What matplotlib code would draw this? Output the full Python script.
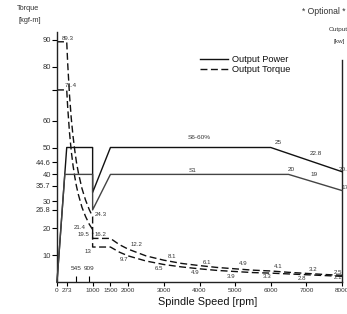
import matplotlib
matplotlib.use("Agg")
import matplotlib.pyplot as plt

plt.rcParams['font.family'] = ['Liberation Sans', 'DejaVu Sans']

# ---- data ----
power_s6_rpm = [0, 273, 1000, 1000, 1500, 6000, 8000]
power_s6_kw = [0, 25, 25, 16.65, 25, 25, 20.5]
power_s1_rpm = [0, 218, 1000, 1000, 1500, 6500, 8000]
power_s1_kw = [0, 20, 20, 13.4, 20, 20, 17]

torque_rpm = [0, 273, 300, 350, 400, 450, 500, 545, 600, 700, 800, 909, 1000, 1000,
              1500, 1750, 2000, 2500, 3000, 3500, 4000, 4500, 5000, 5500, 6000,
              6500, 7000, 7500, 8000]
torque_s6 = [89.3, 89.3, 81.3, 69.7, 60.9, 54.2, 48.8, 44.6, 40.6, 34.8, 30.5, 26.8, 24.3, 16.2,
             16.2, 13.9, 12.2, 9.7, 8.1, 6.9, 6.1, 5.4, 4.9, 4.4, 4.1,
             3.6, 3.2, 2.8, 2.5]
torque_s1 = [71.4, 71.4, 65.0, 55.7, 48.7, 43.3, 39.0, 35.7, 32.5, 27.8, 24.4, 21.4, 19.5, 13.0,
             13.0, 11.1, 9.7, 7.8, 6.5, 5.6, 4.9, 4.3, 3.9, 3.5, 3.3,
             3.0, 2.7, 2.4, 2.1]

x_ticks = [0, 273, 1000, 1500, 2000, 3000, 4000, 5000, 6000, 7000, 8000]
x_minor_ticks = [545, 909]
y_ticks = [10, 20, 26.8, 30, 35.7, 40, 44.6, 50, 60, 71.4, 80, 90]
y_tick_labels = ['10', '20', '26.8', '30', '35.7', '40', '44.6', '50', '60', '', '80', '90']

# torque labels: (rpm, value, text)
torque_labels = [
    (310, 90.5, '89.3'), (380, 73.0, '71.4'), (1230, 25.2, '24.3'),
    (650, 20.4, '21.4'), (740, 17.8, '19.5'), (1220, 17.8, '16.2'),
    (880, 11.5, '13'), (2240, 13.8, '12.2'), (1880, 8.5, '9.7'),
    (3230, 9.5, '8.1'), (2860, 5.2, '6.5'), (4220, 7.4, '6.1'),
    (3880, 3.7, '4.9'), (5220, 6.7, '4.9'), (4880, 2.2, '3.9'),
    (6200, 5.6, '4.1'), (5900, 1.9, '3.3'), (7180, 4.8, '3.2'),
    (6870, 1.2, '2.8'), (7880, 3.7, '2.5'), (7880, 1.5, '2.1'),
]
# power labels (rpm, kW, text)
power_labels = [
    (4000, 26.8, 'S6-60%'), (3820, 20.8, 'S1'), (6200, 26.0, '25'),
    (7270, 23.9, '22.8'), (6570, 21.0, '20'), (7210, 20.0, '19'),
    (8080, 20.9, '20.5'), (8080, 17.6, '17'),
]

# ---- figure ----
fig = plt.figure(figsize=(3.47, 3.14), dpi=100)
ax = fig.add_axes([57 / 347, 32 / 314, 285 / 347, 250 / 314])
ax.set_xlim(0, 8000)
ymax = 250 / 2.69
ax.set_ylim(0, ymax)

ax2 = ax.twinx()
ax2.set_ylim(0, ymax / 2)
for s in ax2.spines.values():
    s.set_visible(False)
ax2.set_yticks([])

ax.spines['top'].set_visible(False)
ax.spines['right'].set_bounds(0, 82.5)
for s in ['left', 'bottom', 'right']:
    ax.spines[s].set_linewidth(1.0)
    ax.spines[s].set_color('#222222')

lc = '#111111'
ax2.plot(power_s6_rpm, power_s6_kw, color=lc, lw=1.0, clip_on=False)
ax2.plot(power_s1_rpm, power_s1_kw, color='#444444', lw=1.0, clip_on=False)
ax.plot(torque_rpm, torque_s6, color=lc, lw=1.0, ls=(0, (5, 2.5)))
ax.plot(torque_rpm, torque_s1, color=lc, lw=1.0, ls=(0, (5, 2.5)))

tc = '#333333'
ax.set_xticks(x_ticks)
ax.set_xticklabels([str(v) for v in x_ticks], fontsize=4.6, color=tc)
ax.set_xticks(x_minor_ticks, minor=True)
ax.tick_params(axis='x', which='major', direction='out', length=3, width=0.8, pad=1.5)
ax.tick_params(axis='x', which='minor', direction='in', length=4, width=0.8)
for v in x_minor_ticks:
    ax.text(v, 5.0, str(v), fontsize=4.6, color=tc, ha='center', va='center')

ax.set_yticks(y_ticks)
ax.set_yticklabels(y_tick_labels, fontsize=5.4, color=tc)
ax.tick_params(axis='y', which='major', direction='out', length=3.5, width=0.8, pad=1)
ax.tick_params(axis='y', which='minor', left=False)

for r, v, t in torque_labels:
    ax.text(r, v, t, fontsize=4.4, color=tc, ha='center', va='center')
for r, v, t in power_labels:
    ax2.text(r, v, t, fontsize=4.6, color=tc, ha='center', va='center', clip_on=False)

fig.text(28 / 347, 1 - 9 / 314, 'Torque', fontsize=5.3, color=tc, ha='center', va='center')
fig.text(30 / 347, 1 - 21 / 314, '[kgf-m]', fontsize=5.3, color=tc, ha='center', va='center')
fig.text(302 / 347, 1 - 12 / 314, '* Optional *', fontsize=6.2, color=tc, ha='left', va='center')
fig.text(329 / 347, 1 - 29 / 314, 'Output', fontsize=4.6, color=tc, ha='left', va='center')
fig.text(334 / 347, 1 - 42 / 314, '[kw]', fontsize=4.6, color=tc, ha='left', va='center')

fig.text(208 / 347, 1 - 302 / 314, 'Spindle Speed [rpm]', fontsize=7.8, color='#111111',
         ha='center', va='center')

# legend
fig.add_artist(plt.Line2D([200 / 347, 228 / 347], [1 - 59 / 314] * 2, color=lc, lw=1.0))
fig.add_artist(plt.Line2D([200 / 347, 228 / 347], [1 - 69 / 314] * 2, color=lc, lw=1.0,
                          ls=(0, (5, 2.5))))
fig.text(232 / 347, 1 - 59 / 314, 'Output Power', fontsize=6.7, color='#111111', va='center')
fig.text(232 / 347, 1 - 69 / 314, 'Output Torque', fontsize=6.7, color='#111111', va='center')

fig.savefig('out.png', dpi=100)
